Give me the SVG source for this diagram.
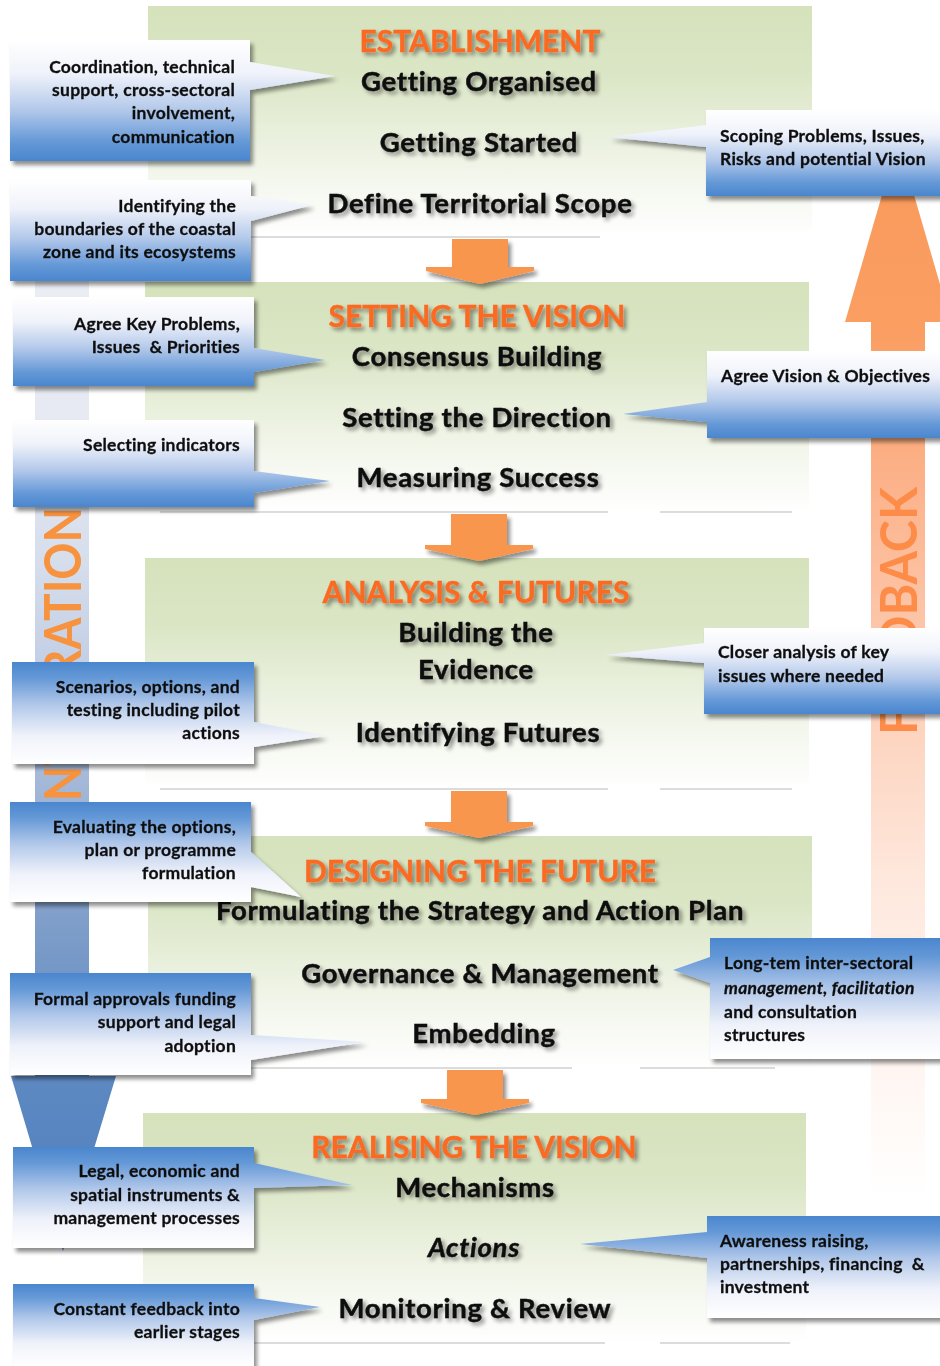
<svg xmlns="http://www.w3.org/2000/svg" width="940" height="1366" viewBox="0 0 940 1366">
<defs>
  <style>
    .stage-bg{fill:url(#gPanel)}
    .stage-line{stroke:#C4C4C4;stroke-width:1.3;opacity:.8}
    .head{font-family:Lato,"Open Sans","Liberation Sans",sans-serif;font-weight:700;font-size:30px;fill:#FA6A22;stroke:#FA6A22;stroke-width:0.4;text-anchor:middle}
    .item{font-family:Lato,"Open Sans","Liberation Sans",sans-serif;font-weight:700;font-size:27.5px;letter-spacing:0.7px;fill:#111;stroke:#111;stroke-width:0.5;text-anchor:middle}
    .note{font-family:Lato,"Open Sans","Liberation Sans",sans-serif;font-weight:700;font-size:17.5px;letter-spacing:0.25px;fill:#111;stroke:#111;stroke-width:0.3}
    .noteL{text-anchor:end}
    .noteR{text-anchor:start}
    .down{fill:url(#gDown)}
    .up{fill:url(#gUp)}
    .arrow{fill:#F9964E}
    .side{font-family:Lato,"Open Sans","Liberation Sans",sans-serif;font-weight:700;font-size:52px}
  </style>
  <linearGradient id="gPanel" x1="0" y1="0" x2="0" y2="1">
    <stop offset="0" stop-color="#D5E2BB"/>
    <stop offset="0.3" stop-color="#DBE6C6"/>
    <stop offset="0.7" stop-color="#F1F5E9"/>
    <stop offset="1" stop-color="#FFFFFF"/>
  </linearGradient>
  <linearGradient id="gDown" x1="0" y1="0" x2="0" y2="1">
    <stop offset="0" stop-color="#FFFFFF"/>
    <stop offset="0.28" stop-color="#EFF2FA"/>
    <stop offset="0.58" stop-color="#B2C8EA"/>
    <stop offset="0.84" stop-color="#6599D7"/>
    <stop offset="1" stop-color="#4A86CE"/>
  </linearGradient>
  <linearGradient id="gUp" x1="0" y1="1" x2="0" y2="0">
    <stop offset="0" stop-color="#FFFFFF"/>
    <stop offset="0.28" stop-color="#EFF2FA"/>
    <stop offset="0.58" stop-color="#B2C8EA"/>
    <stop offset="0.84" stop-color="#6599D7"/>
    <stop offset="1" stop-color="#4A86CE"/>
  </linearGradient>
  <linearGradient id="gFeed" gradientUnits="userSpaceOnUse" x1="0" y1="140" x2="0" y2="1200">
    <stop offset="0" stop-color="#F99A5B"/>
    <stop offset="0.18" stop-color="#FA9E62"/>
    <stop offset="0.34" stop-color="#FCB58F"/>
    <stop offset="0.55" stop-color="#FDD3BE"/>
    <stop offset="0.7" stop-color="#FEE8DD"/>
    <stop offset="0.88" stop-color="#FFF6F2"/>
    <stop offset="1" stop-color="#FFFFFF"/>
  </linearGradient>
  <linearGradient id="gInteg" gradientUnits="userSpaceOnUse" x1="0" y1="190" x2="0" y2="1251">
    <stop offset="0" stop-color="#EEF0F5"/>
    <stop offset="0.22" stop-color="#E6E9F2"/>
    <stop offset="0.35" stop-color="#D6DEEC"/>
    <stop offset="0.44" stop-color="#C4D0E6"/>
    <stop offset="0.56" stop-color="#A3B8D8"/>
    <stop offset="0.69" stop-color="#7F9EC9"/>
    <stop offset="0.83" stop-color="#5E89C2"/>
    <stop offset="1" stop-color="#4F7FBE"/>
  </linearGradient>
  <filter id="tshadow" x="-10%" y="-40%" width="125%" height="190%">
    <feGaussianBlur in="SourceAlpha" stdDeviation="2"/>
    <feOffset dx="3" dy="3" result="b"/>
    <feComponentTransfer><feFuncA type="linear" slope="0.45"/></feComponentTransfer>
    <feMerge><feMergeNode/><feMergeNode in="SourceGraphic"/></feMerge>
  </filter>
  <filter id="bshadow" x="-10%" y="-10%" width="125%" height="130%">
    <feGaussianBlur in="SourceAlpha" stdDeviation="2.2"/>
    <feOffset dx="3" dy="4" result="b"/>
    <feComponentTransfer><feFuncA type="linear" slope="0.45"/></feComponentTransfer>
    <feMerge><feMergeNode/><feMergeNode in="SourceGraphic"/></feMerge>
  </filter>
</defs>
<rect width="940" height="1366" fill="#FFFFFF"/>

<!-- Stage panels -->
<g id="stage-establishment">
  <rect class="stage-bg" x="148" y="6" width="664" height="231"/>
  <line class="stage-line" x1="160" y1="237" x2="600" y2="237"/>
  <g filter="url(#tshadow)">
    <text class="head" x="480" y="52">ESTABLISHMENT</text>
    <text class="item" x="479" y="91">Getting Organised</text>
    <text class="item" x="479" y="152">Getting Started</text>
    <text class="item" x="480" y="213">Define Territorial Scope</text>
  </g>
</g>
<g id="stage-setting-vision">
  <rect class="stage-bg" x="145" y="282" width="664" height="230"/>
  <line class="stage-line" x1="160" y1="512" x2="608" y2="512"/>
  <line class="stage-line" x1="660" y1="512" x2="792" y2="512"/>
  <g filter="url(#tshadow)">
    <text class="head" x="477" y="327">SETTING THE VISION</text>
    <text class="item" x="477" y="366">Consensus Building</text>
    <text class="item" x="477" y="427">Setting the Direction</text>
    <text class="item" x="478" y="487">Measuring Success</text>
  </g>
</g>
<g id="stage-analysis-futures">
  <rect class="stage-bg" x="145" y="558" width="664" height="231"/>
  <line class="stage-line" x1="160" y1="789" x2="608" y2="789"/>
  <line class="stage-line" x1="660" y1="789" x2="792" y2="789"/>
  <g filter="url(#tshadow)">
    <text class="head" x="476" y="603">ANALYSIS &amp; FUTURES</text>
    <text class="item" x="476" y="642">Building the</text>
    <text class="item" x="476" y="679">Evidence</text>
    <text class="item" x="478" y="742">Identifying Futures</text>
  </g>
</g>
<g id="stage-designing-future">
  <rect class="stage-bg" x="148" y="836" width="664" height="232"/>
  <line class="stage-line" x1="160" y1="1068" x2="572" y2="1068"/>
  <line class="stage-line" x1="640" y1="1068" x2="775" y2="1068"/>
  <g filter="url(#tshadow)">
    <text class="head" x="480" y="882">DESIGNING THE FUTURE</text>
    <text class="item" x="480" y="920">Formulating the Strategy and Action Plan</text>
    <text class="item" x="480" y="983">Governance &amp; Management</text>
    <text class="item" x="484" y="1043">Embedding</text>
  </g>
</g>
<g id="stage-realising-vision">
  <rect class="stage-bg" x="143" y="1113" width="663" height="230"/>
  <line class="stage-line" x1="160" y1="1343" x2="605" y2="1343"/>
  <line class="stage-line" x1="660" y1="1343" x2="790" y2="1343"/>
  <g filter="url(#tshadow)">
    <text class="head" x="474" y="1158">REALISING THE VISION</text>
    <text class="item" x="475" y="1197">Mechanisms</text>
    <text class="item" x="474" y="1257" font-style="italic">Actions</text>
    <text class="item" x="475" y="1318">Monitoring &amp; Review</text>
  </g>
</g>

<!-- Connectors -->
<g id="connectors">
  <g filter="url(#bshadow)">
    <polygon class="arrow" points="452,239 508,239 508,267 534,267 534,271 480,284 426,271 426,267 452,267"/>
    <polygon class="arrow" points="451,514 507,514 507,545 533,545 533,549 479,561 425,549 425,545 451,545"/>
    <polygon class="arrow" points="451,791 507,791 507,822 533,822 533,826 479,838 425,826 425,822 451,822"/>
    <polygon class="arrow" points="447,1070 503,1070 503,1099 529,1099 529,1103 475,1115 421,1103 421,1099 447,1099"/>
  </g>
  <g id="feedback-arrow">
    <polygon fill="url(#gFeed)" points="898,140 951,322 925,322 925,1200 871,1200 871,322 845,322"/>
    <text class="side" fill="#FC8C48" transform="translate(917,611) rotate(-90)" text-anchor="middle" textLength="248" lengthAdjust="spacingAndGlyphs">FEEDBACK</text>
  </g>
  <g id="integration-arrow">
    <polygon fill="url(#gInteg)" points="35,190 89,190 89,1076 116,1076 63,1251 11,1076 35,1076"/>
    <text class="side" fill="#F7923F" transform="translate(81,661) rotate(-90)" text-anchor="middle" textLength="308" lengthAdjust="spacingAndGlyphs">INTEGRATION</text>
  </g>
</g>

<!-- Left callouts -->
<g id="note-coordination" filter="url(#bshadow)">
  <path class="down" d="M10,40 H250 V62 L335,76 L250,90 V161 H10 Z"/>
  <text class="note noteL" x="235" y="73">Coordination, technical</text>
  <text class="note noteL" x="235" y="96">support, cross-sectoral</text>
  <text class="note noteL" x="235" y="119">involvement,</text>
  <text class="note noteL" x="235" y="143">communication</text>
</g>
<g id="note-boundaries" filter="url(#bshadow)">
  <path class="down" d="M10,180 H251 V196 L312,205 L251,221 V281 H10 Z"/>
  <text class="note noteL" x="236" y="212">Identifying the</text>
  <text class="note noteL" x="236" y="235">boundaries of the coastal</text>
  <text class="note noteL" x="236" y="258">zone and its ecosystems</text>
</g>
<g id="note-agree-problems" filter="url(#bshadow)">
  <path class="down" d="M13,297 H254 V348 L325,360 L254,372 V386 H13 Z"/>
  <text class="note noteL" x="240" y="330">Agree Key Problems,</text>
  <text class="note noteL" x="240" y="353" xml:space="preserve">Issues  &amp; Priorities</text>
</g>
<g id="note-indicators" filter="url(#bshadow)">
  <path class="down" d="M13,420 H254 V471 L330,481 L254,493 V507 H13 Z"/>
  <text class="note noteL" x="240" y="451">Selecting indicators</text>
</g>
<g id="note-scenarios" filter="url(#bshadow)">
  <path class="up" d="M12,662 H254 V722 L325,736 L254,747 V764 H12 Z"/>
  <text class="note noteL" x="240" y="693">Scenarios, options, and</text>
  <text class="note noteL" x="240" y="716">testing including pilot</text>
  <text class="note noteL" x="240" y="739">actions</text>
</g>
<g id="note-evaluating" filter="url(#bshadow)">
  <path class="up" d="M10,802 H251 V852 L301,897 L251,887 V902 H10 Z"/>
  <text class="note noteL" x="236" y="833">Evaluating the options,</text>
  <text class="note noteL" x="236" y="856">plan or programme</text>
  <text class="note noteL" x="236" y="879">formulation</text>
</g>
<g id="note-approvals" filter="url(#bshadow)">
  <path class="up" d="M10,973 H251 V1035 L365,1042 L251,1060 V1075 H10 Z"/>
  <text class="note noteL" x="236" y="1005">Formal approvals funding</text>
  <text class="note noteL" x="236" y="1028">support and legal</text>
  <text class="note noteL" x="236" y="1052">adoption</text>
</g>
<g id="note-instruments" filter="url(#bshadow)">
  <path class="up" d="M13,1147 H254 V1163 L352,1185 L254,1188 V1248 H13 Z"/>
  <text class="note noteL" x="240" y="1177">Legal, economic and</text>
  <text class="note noteL" x="240" y="1201">spatial instruments &amp;</text>
  <text class="note noteL" x="240" y="1224">management processes</text>
</g>
<g id="note-feedback" filter="url(#bshadow)">
  <path class="up" d="M13,1284 H254 V1298 L320,1307 L254,1320 V1366 H13 Z"/>
  <text class="note noteL" x="240" y="1315">Constant feedback into</text>
  <text class="note noteL" x="240" y="1338">earlier stages</text>
</g>

<!-- Right callouts -->
<g id="note-scoping" filter="url(#bshadow)">
  <path class="down" d="M706,110 H945 V196 H706 V147 L608,137 L706,125 Z"/>
  <text class="note noteR" x="720" y="142">Scoping Problems, Issues,</text>
  <text class="note noteR" x="720" y="165">Risks and potential Vision</text>
</g>
<g id="note-vision-objectives" filter="url(#bshadow)">
  <path class="down" d="M707,351 H945 V438 H707 V422 L623,414 L707,402 Z"/>
  <text class="note noteR" x="721" y="382">Agree Vision &amp; Objectives</text>
</g>
<g id="note-closer-analysis" filter="url(#bshadow)">
  <path class="down" d="M704,628 H945 V714 H704 V663 L605,655 L704,643 Z"/>
  <text class="note noteR" x="718" y="658">Closer analysis of key</text>
  <text class="note noteR" x="718" y="682">issues where needed</text>
</g>
<g id="note-long-term" filter="url(#bshadow)">
  <path class="up" d="M710,938 H945 V1059 H710 V983 L673,970 L710,957 Z"/>
  <text class="note noteR" x="724" y="969">Long-tem inter-sectoral</text>
  <text class="note noteR" x="724" y="994" font-style="italic">management, facilitation</text>
  <text class="note noteR" x="724" y="1018">and consultation</text>
  <text class="note noteR" x="724" y="1041">structures</text>
</g>
<g id="note-awareness" filter="url(#bshadow)">
  <path class="up" d="M707,1216 H945 V1318 H707 V1258 L580,1244 L707,1232 Z"/>
  <text class="note noteR" x="720" y="1247">Awareness raising,</text>
  <text class="note noteR" x="720" y="1270" xml:space="preserve">partnerships, financing  &amp;</text>
  <text class="note noteR" x="720" y="1293">investment</text>
</g>
</svg>
